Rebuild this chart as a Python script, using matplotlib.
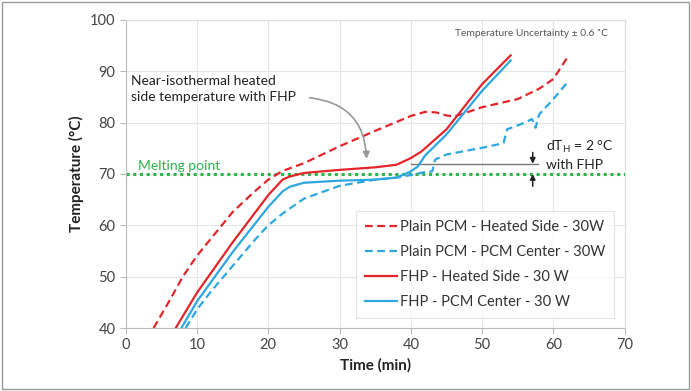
import matplotlib
matplotlib.use("Agg")
import matplotlib.pyplot as plt
import matplotlib.patches as mpatches

# data (time in min, temperature in C)
plain_heated_t = [3.9, 6, 8, 10, 12, 15, 18, 20, 22, 25, 30, 35, 40, 42, 43.5, 45, 46, 47, 50, 55, 58, 60, 62]
plain_heated_T = [40, 45, 50, 54.1, 57.5, 62.6, 66.5, 68.9, 70.6, 72.1, 75.4, 78.4, 81.3, 82.1, 82.0, 81.4, 81.2, 81.6, 83.0, 84.6, 86.6, 88.5, 92.8]

plain_center_t = [8.4, 10, 12, 15, 18, 20, 22, 25, 30, 35, 38, 40, 42, 43, 43.4, 45, 50, 53, 53.5, 56, 57, 57.5, 58, 60, 62]
plain_center_T = [40, 43.6, 47.2, 52.1, 57.0, 60.0, 62.3, 65.2, 67.7, 68.9, 69.3, 69.8, 70.4, 70.5, 72.8, 73.8, 75.1, 76.0, 78.7, 80.0, 80.7, 79.0, 81.6, 84.6, 87.9]

fhp_heated_t = [7.0, 10, 15, 20, 22, 23, 25, 30, 35, 38, 40, 41.5, 45, 50, 54]
fhp_heated_T = [40, 46.9, 56.7, 65.9, 68.9, 69.5, 70.2, 70.8, 71.3, 71.8, 73.1, 74.4, 78.7, 87.5, 93.1]

fhp_center_t = [7.8, 10, 15, 20, 22, 23, 25, 30, 35, 38, 40, 41, 42, 45, 50, 54]
fhp_center_T = [40, 45.2, 54.8, 63.6, 66.6, 67.5, 68.3, 68.7, 68.9, 69.3, 70.5, 71.5, 73.6, 77.7, 86.2, 92.1]

melting_point = 70
dT_top = 72

RED = "#e3262b"
BLUE = "#2ea7e0"
GREEN = "#2fb34c"

plt.rcParams["font.family"] = ["Lato", "DejaVu Sans"]

fig = plt.figure(figsize=(6.91, 3.91), dpi=100)
ax = fig.add_axes([0.182, 0.161, 0.722, 0.788])

ax.axhline(melting_point, color=GREEN, linestyle=(0, (1, 1.2)), linewidth=2.2, zorder=2)
ax.plot(plain_heated_t, plain_heated_T, color=RED, linestyle=(0, (3.5, 2)), linewidth=1.6,
        label="Plain PCM - Heated Side - 30W", zorder=3)
ax.plot(plain_center_t, plain_center_T, color=BLUE, linestyle=(0, (3.5, 2)), linewidth=1.6,
        label="Plain PCM - PCM Center - 30W", zorder=3)
ax.plot(fhp_heated_t, fhp_heated_T, color=RED, linewidth=1.6,
        label="FHP - Heated Side - 30 W", zorder=4)
ax.plot(fhp_center_t, fhp_center_T, color=BLUE, linewidth=1.6,
        label="FHP - PCM Center - 30 W", zorder=4)

ax.set_xlim(0, 70)
ax.set_ylim(40, 100)
ax.set_xticks(range(0, 71, 10))
ax.set_yticks(range(40, 101, 10))
ax.grid(True, color="#e6e6e6", linewidth=0.8)
ax.set_axisbelow(True)
for side in ["top", "right"]:
    ax.spines[side].set_color("#dddddd")
for side in ["left", "bottom"]:
    ax.spines[side].set_color("#bbbbbb")
ax.tick_params(colors="#bbbbbb", labelcolor="#444444", labelsize=10.5, length=4)
ax.set_xlabel("Time (min)", fontsize=11, fontweight="bold", color="#222222")
ax.set_ylabel("Temperature (°C)", fontsize=11, fontweight="bold", color="#222222")

ax.text(1.7, 70.7, "Melting point", color=GREEN, fontsize=10)
ax.text(0.7, 89.3, "Near-isothermal heated\nside temperature with FHP", fontsize=10,
        color="#222222", linespacing=1.45, va="top")
ax.annotate("", xy=(33.8, 72.4), xytext=(25.4, 84.9),
            arrowprops=dict(arrowstyle="-|>", color="#999999", lw=1.2,
                            connectionstyle="arc3,rad=-0.45"))
ax.text(67.7, 97.4, "Temperature Uncertainty \u00b1 0.6 \u02daC", fontsize=7.4,
        color="#555555", ha="right", va="center")

ax.plot([40, 57.8], [dT_top, dT_top], color="#777777", linewidth=1, zorder=3)
ax.annotate("", xy=(57.1, dT_top), xytext=(57.1, 74.2),
            arrowprops=dict(arrowstyle="-|>", color="#222222", lw=1.1, mutation_scale=8,
                            shrinkA=0, shrinkB=0))
ax.annotate("", xy=(57.1, melting_point), xytext=(57.1, 67.6),
            arrowprops=dict(arrowstyle="-|>", color="#222222", lw=1.1, mutation_scale=8,
                            shrinkA=0, shrinkB=0))
ax.text(59.0, 73.7, "dT$_\\mathregular{H}$ = 2 °C\nwith FHP", fontsize=10, color="#222222",
        va="center", linespacing=1.35)

leg = ax.legend(loc="lower right", fontsize=10.5, frameon=True, fancybox=False,
                handlelength=2.2, handletextpad=0.2, labelspacing=0.75,
                borderpad=0.6, bbox_to_anchor=(0.993, 0.01))
leg.get_frame().set_edgecolor("#dddddd")
leg.get_frame().set_linewidth(0.8)
for t in leg.get_texts():
    t.set_color("#333333")

fig.patches.append(mpatches.Rectangle((0.003, 0.005), 0.994, 0.99, transform=fig.transFigure,
                                      fill=False, edgecolor="#999999", linewidth=1))

fig.savefig("out.png", dpi=100)
